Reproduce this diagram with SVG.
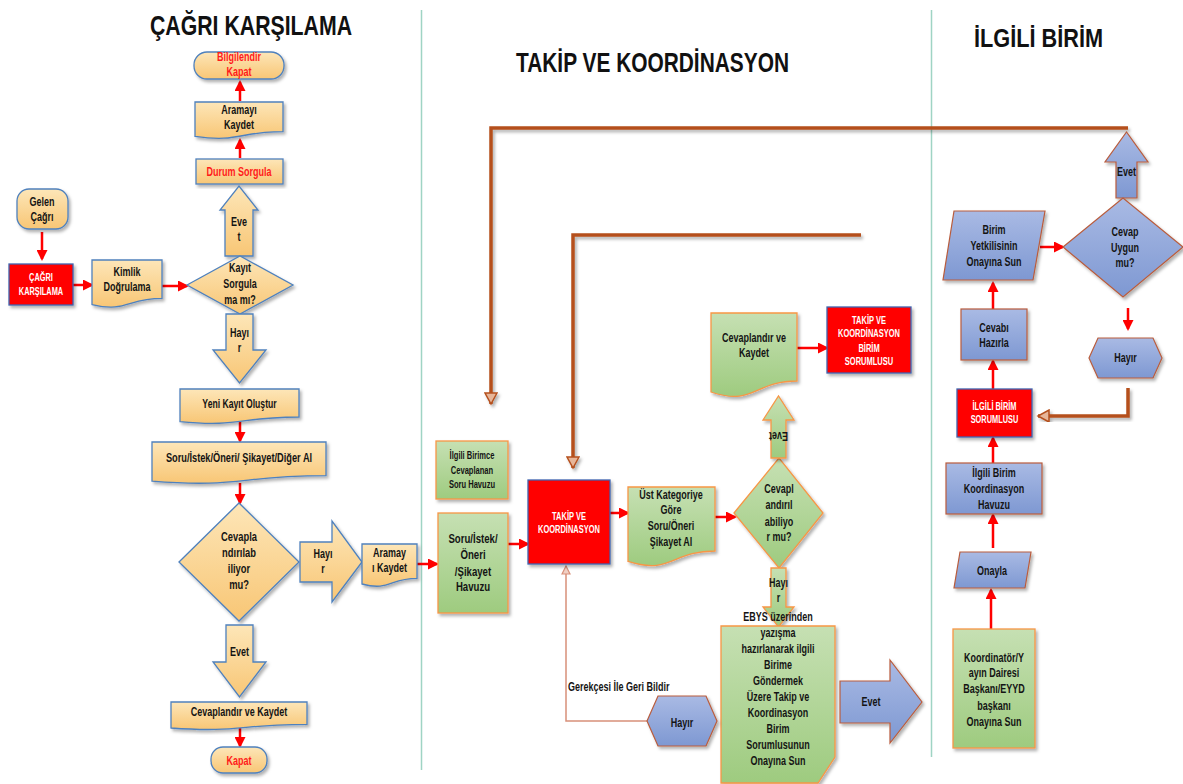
<svg xmlns="http://www.w3.org/2000/svg" width="1183" height="784" viewBox="0 0 1183 784">
<defs>
<linearGradient id="gO" x1="0" y1="0" x2="0" y2="1"><stop offset="0" stop-color="#fde6b8"/><stop offset="1" stop-color="#f8c675"/></linearGradient>
<linearGradient id="gG" x1="0" y1="0" x2="0" y2="1"><stop offset="0" stop-color="#c6e0b3"/><stop offset="1" stop-color="#9ecb7f"/></linearGradient>
<linearGradient id="gB" x1="0" y1="0" x2="0" y2="1"><stop offset="0" stop-color="#a9bae4"/><stop offset="1" stop-color="#7e98d2"/></linearGradient>
<filter id="sh" x="-20%" y="-20%" width="140%" height="140%"><feDropShadow dx="2" dy="2.5" stdDeviation="1.5" flood-color="#000" flood-opacity="0.3"/></filter>
<marker id="ah" markerWidth="11" markerHeight="11" refX="9" refY="5.5" orient="auto" markerUnits="userSpaceOnUse"><path d="M0,0 L11,5.5 L0,11 Z" fill="#ff0000"/></marker>
<marker id="bh" markerWidth="14" markerHeight="14" refX="12" refY="7" orient="auto" markerUnits="userSpaceOnUse"><path d="M1,1 L12,7 L1,13 Z" fill="#e7b699" stroke="#b5501e" stroke-width="1.5"/></marker>
<marker id="sh2" markerWidth="10" markerHeight="10" refX="9" refY="5" orient="auto" markerUnits="userSpaceOnUse"><path d="M1,1 L9,5 L1,9 Z" fill="#f1d0c4" stroke="#d8907a" stroke-width="1.2"/></marker>
</defs>
<style>
.o{fill:url(#gO);stroke:#4f81bd;stroke-width:1.3;filter:url(#sh)}
.g{fill:url(#gG);stroke:#f79646;stroke-width:1.3;filter:url(#sh)}
.b{fill:url(#gB);stroke:#b95c3c;stroke-width:1.2;filter:url(#sh)}
.r{fill:#ff0000;stroke:#3f64b0;stroke-width:1.3;filter:url(#sh)}
.t{font-family:"Liberation Sans",Arial,sans-serif;font-weight:bold;font-size:12px;text-anchor:middle;fill:#141414}
.w{fill:#ffffff;font-size:10px}
.rt{fill:#ff1a1a}
.h{font-family:"Liberation Sans",Arial,sans-serif;font-weight:bold;fill:#111}
.ra{stroke:#ff0000;stroke-width:2.5;fill:none;marker-end:url(#ah)}
.br{stroke:#b5501e;stroke-width:3.5;fill:none;filter:url(#sh)}
.sep{stroke:#9fd4c4;stroke-width:1.5}
</style>
<rect width="1183" height="784" fill="#ffffff"/>

<g id="separators">
<line class="sep" x1="421.5" y1="10" x2="421.5" y2="770"/>
<line class="sep" x1="931.5" y1="10" x2="931.5" y2="757"/>
</g>

<g id="titles">
<text class="h" x="150" y="35" font-size="28" textLength="202" lengthAdjust="spacingAndGlyphs">ÇAĞRI KARŞILAMA</text>
<text class="h" x="516" y="72" font-size="28" textLength="273" lengthAdjust="spacingAndGlyphs">TAKİP VE KOORDİNASYON</text>
<text class="h" x="974" y="47" font-size="25" textLength="129" lengthAdjust="spacingAndGlyphs">İLGİLİ BİRİM</text>
</g>

<g id="connectors">
<line class="ra" x1="240" y1="101" x2="240" y2="82"/>
<line class="ra" x1="240" y1="158" x2="240" y2="140"/>
<line class="ra" x1="42" y1="232" x2="42" y2="259"/>
<line class="ra" x1="73" y1="285" x2="92" y2="285"/>
<line class="ra" x1="162" y1="286" x2="187" y2="286"/>
<line class="ra" x1="240" y1="422" x2="240" y2="441"/>
<line class="ra" x1="240" y1="483" x2="240" y2="503"/>
<line class="ra" x1="240" y1="728" x2="240" y2="746"/>
<line class="ra" x1="417" y1="564" x2="437" y2="564"/>
<line class="ra" x1="508" y1="544" x2="528" y2="544"/>
<line class="ra" x1="610" y1="513" x2="628" y2="513"/>
<line class="ra" x1="715" y1="517" x2="735" y2="517"/>
<line class="ra" x1="797" y1="348" x2="827" y2="348"/>
<line class="ra" x1="1040" y1="247" x2="1063" y2="247"/>
<line class="ra" x1="1128" y1="308" x2="1128" y2="329"/>
<line class="ra" x1="993" y1="309" x2="993" y2="283"/>
<line class="ra" x1="993" y1="389" x2="993" y2="361"/>
<line class="ra" x1="993" y1="463" x2="993" y2="438"/>
<line class="ra" x1="993" y1="548" x2="993" y2="515"/>
<line class="ra" x1="991" y1="629" x2="991" y2="590"/>
<path class="br" d="M1128 128 H491 V404" marker-end="url(#bh)"/>
<path class="br" d="M861 235 H573 V468" marker-end="url(#bh)"/>
<path class="br" d="M1128 388 V416 H1038" marker-end="url(#bh)"/>
<path d="M647 721 H566 V566" fill="none" stroke="#d8907a" stroke-width="1.5" marker-end="url(#sh2)"/>
<text class="t" transform="matrix(0.75 0 0 1 568 0)" x="0" y="691" style="text-anchor:start">Gerekçesi İle Geri Bildir</text>
</g>

<g id="n-bilgilendir">
<rect class="o" x="194" y="52" width="90" height="27" rx="13"/>
<text class="t rt" transform="matrix(0.75 0 0 1 239 0)"><tspan x="0" y="61">Bilgilendir</tspan><tspan x="0" y="76">Kapat</tspan></text>
</g>
<g id="n-aramayi-kaydet">
<path class="o" d="M195 102 H283 V131.6 C239 131.6 239 142.7 195 136.4 Z"/>
<text class="t" transform="matrix(0.75 0 0 1 239 0)"><tspan x="0" y="114">Aramayı</tspan><tspan x="0" y="129">Kaydet</tspan></text>
</g>
<g id="n-durum-sorgula">
<rect class="o" x="196" y="159" width="87" height="25"/>
<text class="t rt" transform="matrix(0.75 0 0 1 239 0)" x="0" y="176">Durum Sorgula</text>
</g>
<g id="n-evet-up-left">
<path class="o" d="M225 256 V210 H220 L239 186 L258 210 H253 V256 Z"/>
<text class="t" transform="matrix(0.75 0 0 1 239 0)"><tspan x="0" y="226">Eve</tspan><tspan x="0" y="241">t</tspan></text>
</g>
<g id="n-kayit-sorgula">
<polygon class="o" points="187,285 240,256 293,285 240,314"/>
<text class="t" transform="matrix(0.75 0 0 1 240 0)"><tspan x="0" y="272">Kayıt</tspan><tspan x="0" y="288">Sorgula</tspan><tspan x="0" y="304">ma mı?</tspan></text>
</g>
<g id="n-gelen-cagri">
<rect class="o" x="17" y="189" width="51" height="40" rx="12"/>
<text class="t" transform="matrix(0.75 0 0 1 42 0)"><tspan x="0" y="206">Gelen</tspan><tspan x="0" y="221">Çağrı</tspan></text>
</g>
<g id="n-cagri-karsilama">
<rect class="r" x="9" y="264" width="64" height="41"/>
<text class="t w" transform="matrix(0.74 0 0 1 41 0)"><tspan x="0" y="281">ÇAĞRI</tspan><tspan x="0" y="295">KARŞILAMA</tspan></text>
</g>
<g id="n-kimlik">
<path class="o" d="M92 260 H162 V298.4 C127 298.4 127 312.8 92 304.6 Z"/>
<text class="t" transform="matrix(0.75 0 0 1 127 0)"><tspan x="0" y="276">Kimlik</tspan><tspan x="0" y="291">Doğrulama</tspan></text>
</g>
<g id="n-hayir-down-left">
<path class="o" d="M226 314 V350 H213 L239.5 383 L266 350 H253 V314 Z"/>
<text class="t" transform="matrix(0.75 0 0 1 239.5 0)"><tspan x="0" y="337">Hayı</tspan><tspan x="0" y="352">r</tspan></text>
</g>
<g id="n-yeni-kayit">
<path class="o" d="M180 389 H299 V417 C239.5 417 239.5 427.5 180 421.6 Z"/>
<text class="t" transform="matrix(0.72 0 0 1 239.5 0)" x="0" y="408">Yeni Kayıt Oluştur</text>
</g>
<g id="n-soru-al">
<path class="o" d="M152 442 H326 V475.6 C239 475.6 239 488.2 152 481.1 Z"/>
<text class="t" transform="matrix(0.77 0 0 1 239 0)" x="0" y="462">Soru/İstek/Öneri/ Şikayet/Diğer Al</text>
</g>
<g id="n-cevaplandirilabiliyor">
<polygon class="o" points="179,562 239,503 299,562 239,621"/>
<text class="t" transform="matrix(0.78 0 0 1 239 0)"><tspan x="0" y="541">Cevapla</tspan><tspan x="0" y="557">ndırılab</tspan><tspan x="0" y="573">iliyor</tspan><tspan x="0" y="589">mu?</tspan></text>
</g>
<g id="n-hayir-right-left">
<path class="o" d="M300 542 H332 V521 L362 562 L332 602 V582 H300 Z"/>
<text class="t" transform="matrix(0.75 0 0 1 323 0)"><tspan x="0" y="558">Hayı</tspan><tspan x="0" y="573">r</tspan></text>
</g>
<g id="n-aramayi-kaydet-2">
<path class="o" d="M362 544 H417 V578.4 C389.5 578.4 389.5 591.3 362 584 Z"/>
<text class="t" transform="matrix(0.75 0 0 1 389.5 0)"><tspan x="0" y="557">Aramay</tspan><tspan x="0" y="572">ı Kaydet</tspan></text>
</g>
<g id="n-evet-down-left">
<path class="o" d="M226 625 V662 H213 L239.5 697 L266 662 H253 V625 Z"/>
<text class="t" transform="matrix(0.75 0 0 1 239.5 0)" x="0" y="656">Evet</text>
</g>
<g id="n-cevaplandir-left">
<path class="o" d="M171 702 H307 V724.4 C239 724.4 239 732.8 171 728 Z"/>
<text class="t" transform="matrix(0.75 0 0 1 239 0)" x="0" y="716">Cevaplandır ve  Kaydet</text>
</g>
<g id="n-kapat">
<rect class="o" x="211" y="747" width="56" height="26" rx="12"/>
<text class="t rt" transform="matrix(0.75 0 0 1 239 0)" x="0" y="765">Kapat</text>
</g>

<g id="n-ilgili-birimce">
<rect class="g" x="436" y="441" width="72" height="58"/>
<text class="t" style="font-size:10.5px" transform="matrix(0.72 0 0 1 472 0)"><tspan x="0" y="459">İlgili Birimce</tspan><tspan x="0" y="474">Cevaplanan</tspan><tspan x="0" y="488">Soru Havuzu</tspan></text>
</g>
<g id="n-soru-havuzu">
<rect class="g" x="438" y="513" width="70" height="100"/>
<text class="t" style="font-size:12.5px" transform="matrix(0.77 0 0 1 473 0)"><tspan x="0" y="543">Soru/İstek/</tspan><tspan x="0" y="559">Öneri</tspan><tspan x="0" y="576">/Şikayet</tspan><tspan x="0" y="591">Havuzu</tspan></text>
</g>
<g id="n-takip-koordinasyon">
<rect class="r" x="528" y="480" width="82" height="84"/>
<text class="t w" transform="matrix(0.75 0 0 1 569 0)"><tspan x="0" y="520">TAKİP VE</tspan><tspan x="0" y="533">KOORDİNASYON</tspan></text>
</g>
<g id="n-ust-kategori">
<path class="g" d="M628 487 H715 V551 C671.5 551 671.5 575 628 561.4 Z"/>
<text class="t" transform="matrix(0.75 0 0 1 671 0)"><tspan x="0" y="499">Üst Kategoriye</tspan><tspan x="0" y="514">Göre</tspan><tspan x="0" y="530">Soru/Öneri</tspan><tspan x="0" y="546">Şikayet Al</tspan></text>
</g>
<g id="n-cevaplandirilabiliyor-2">
<polygon class="g" points="734,513 779,458 823,513 779,568"/>
<text class="t" transform="matrix(0.75 0 0 1 779 0)"><tspan x="0" y="493">Cevapl</tspan><tspan x="0" y="509">andırıl</tspan><tspan x="0" y="526">abiliyo</tspan><tspan x="0" y="541">r mu?</tspan></text>
</g>
<g id="n-evet-up-mid">
<path class="g" d="M771 458 V420 H763 L778.5 396 L794 420 H786 V458 Z"/>
<text class="t" transform="matrix(-0.75 0 0 -1 778.5 856)" x="0" y="424">Evet</text>
</g>
<g id="n-cevaplandir-mid">
<path class="g" d="M711 313 H797 V381 C754 381 754 406.5 711 392 Z"/>
<text class="t" transform="matrix(0.75 0 0 1 754 0)"><tspan x="0" y="342">Cevaplandır ve</tspan><tspan x="0" y="357">Kaydet</tspan></text>
</g>
<g id="n-birim-sorumlusu">
<rect class="r" x="827" y="307" width="84" height="66"/>
<text class="t w" transform="matrix(0.75 0 0 1 869 0)"><tspan x="0" y="324">TAKİP VE</tspan><tspan x="0" y="337">KOORDİNASYON</tspan><tspan x="0" y="352">BİRİM</tspan><tspan x="0" y="365">SORUMLUSU</tspan></text>
</g>
<g id="n-hayir-down-mid">
<path class="g" d="M771 568 V607 H763 L778.5 627 L794 607 H786 V568 Z"/>
</g>
<g id="n-ebys">
<path class="g" d="M721 626 H835 V757 L818 783 H721 Z"/>
<text class="t" transform="matrix(0.75 0 0 1 778.5 0)"><tspan x="0" y="587">Hayı</tspan><tspan x="0" y="602">r</tspan></text>
<text class="t" transform="matrix(0.75 0 0 1 778 0)"><tspan x="0" y="621">EBYS üzerinden</tspan><tspan x="0" y="637">yazışma</tspan><tspan x="0" y="653">hazırlanarak ilgili</tspan><tspan x="0" y="669">Birime</tspan><tspan x="0" y="685">Göndermek</tspan><tspan x="0" y="701">Üzere Takip ve</tspan><tspan x="0" y="717">Koordinasyon</tspan><tspan x="0" y="733">Birim</tspan><tspan x="0" y="749">Sorumlusunun</tspan><tspan x="0" y="765">Onayına Sun</tspan></text>
</g>
<g id="n-hayir-hex-mid">
<polygon class="b" points="647,721 658,696 706,696 717,721 706,746 658,746"/>
<text class="t" transform="matrix(0.75 0 0 1 682 0)" x="0" y="727">Hayır</text>
</g>
<g id="n-evet-right-mid">
<path class="b" d="M840 681 H890 V660 L922 702 L890 743 V723 H840 Z"/>
<text class="t" transform="matrix(0.75 0 0 1 871 0)" x="0" y="706">Evet</text>
</g>

<g id="n-evet-up-right">
<path class="b" d="M1116 198 V162 H1105 L1126.5 132 L1148 162 H1137 V198 Z"/>
<text class="t" transform="matrix(0.75 0 0 1 1126.5 0)" x="0" y="176">Evet</text>
</g>
<g id="n-cevap-uygun">
<polygon class="b" points="1063,247 1123,198 1183,247 1123,297"/>
<text class="t" transform="matrix(0.75 0 0 1 1125 0)"><tspan x="0" y="236">Cevap</tspan><tspan x="0" y="252">Uygun</tspan><tspan x="0" y="267">mu?</tspan></text>
</g>
<g id="n-birim-yetkilisi">
<polygon class="b" points="954,211 1045,211 1033,280 943,280"/>
<text class="t" transform="matrix(0.75 0 0 1 994 0)"><tspan x="0" y="234">Birim</tspan><tspan x="0" y="250">Yetkilisinin</tspan><tspan x="0" y="266">Onayına Sun</tspan></text>
</g>
<g id="n-hayir-hex-right">
<polygon class="b" points="1089,358 1098,338 1153,338 1162,358 1153,378 1098,378"/>
<text class="t" transform="matrix(0.75 0 0 1 1125.5 0)" x="0" y="362">Hayır</text>
</g>
<g id="n-cevabi-hazirla">
<rect class="b" x="961" y="309" width="66" height="51"/>
<text class="t" transform="matrix(0.75 0 0 1 994 0)"><tspan x="0" y="332">Cevabı</tspan><tspan x="0" y="347">Hazırla</tspan></text>
</g>
<g id="n-ilgili-birim-sorumlusu">
<rect class="r" x="957" y="389" width="75" height="48"/>
<text class="t w" transform="matrix(0.74 0 0 1 994.5 0)"><tspan x="0" y="410">İLGİLİ BİRİM</tspan><tspan x="0" y="423">SORUMLUSU</tspan></text>
</g>
<g id="n-koordinasyon-havuzu">
<rect class="b" x="946" y="463" width="96" height="51"/>
<text class="t" transform="matrix(0.75 0 0 1 994 0)"><tspan x="0" y="477">İlgili Birim</tspan><tspan x="0" y="493">Koordinasyon</tspan><tspan x="0" y="509">Havuzu</tspan></text>
</g>
<g id="n-onayla">
<polygon class="b" points="960,552 1031,552 1025,588 954,588"/>
<text class="t" transform="matrix(0.75 0 0 1 992 0)" x="0" y="575">Onayla</text>
</g>
<g id="n-koordinator">
<rect class="g" x="953" y="629" width="82" height="119"/>
<text class="t" transform="matrix(0.75 0 0 1 994 0)"><tspan x="0" y="662">Koordinatör/Y</tspan><tspan x="0" y="677">ayın Dairesi</tspan><tspan x="0" y="693">Başkanı/EYYD</tspan><tspan x="0" y="710">başkanı</tspan><tspan x="0" y="726">Onayına Sun</tspan></text>
</g>
</svg>
